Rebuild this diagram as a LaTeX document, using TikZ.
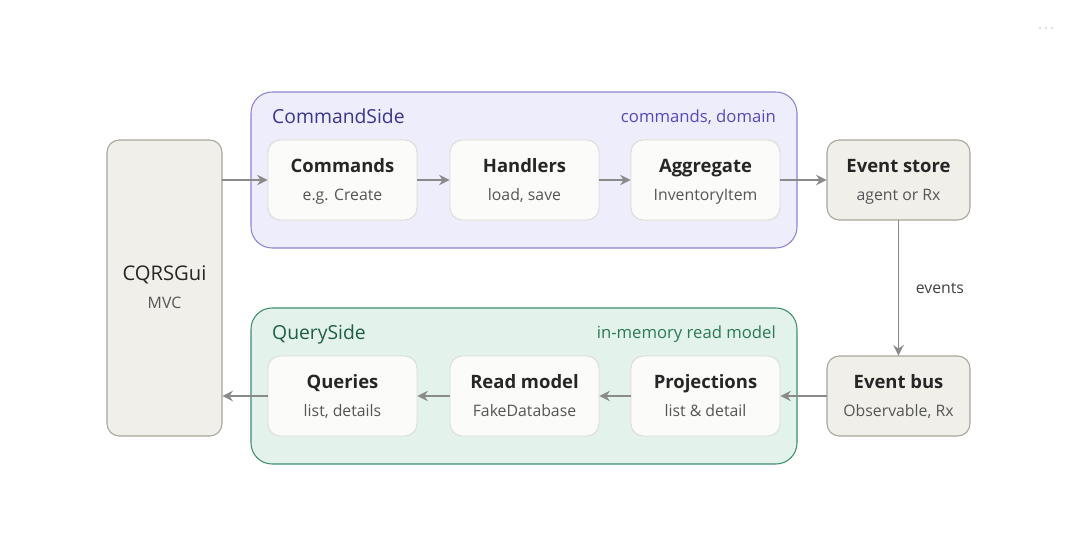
\documentclass[tikz,border=0pt]{standalone}
\usepackage{fontspec}
\setmainfont{Open Sans}
\usetikzlibrary{arrows.meta}
\definecolor{beige}{HTML}{F1EFE9}
\definecolor{beigeb}{HTML}{A8A49C}
\definecolor{lav}{HTML}{EEEDFB}
\definecolor{lavb}{HTML}{8A84D4}
\definecolor{lavt}{HTML}{3B3490}
\definecolor{lavt2}{HTML}{5549C0}
\definecolor{mint}{HTML}{E3F3EC}
\definecolor{mintb}{HTML}{3E8E6B}
\definecolor{mintt}{HTML}{1F5E43}
\definecolor{mintt2}{HTML}{2A7A55}
\definecolor{card}{HTML}{FBFBF9}
\definecolor{cardb}{HTML}{DCDAD4}
\definecolor{arr}{HTML}{8A8A8A}
\definecolor{sub}{HTML}{555555}
\begin{document}
\begin{tikzpicture}[x=0.02cm,y=-0.02cm,
  cont/.style={draw,rounded corners=12pt,line width=0.6pt},
  card/.style={draw=cardb,fill=card,rounded corners=7pt,line width=0.5pt},
  ext/.style={draw=beigeb,fill=beige,rounded corners=7pt,line width=0.6pt},
  ttl/.style={anchor=base,font=\fontsize{10.5}{12}\selectfont\bfseries,text=black!85},
  sb/.style={anchor=base,font=\fontsize{9}{11}\selectfont,text=sub},
  ar/.style={draw=arr,line width=1pt,-{Stealth[length=6pt,width=6pt]}}]
\useasboundingbox (0,0) rectangle (1076,551);
\fill[black!12] (1040,28) circle (1.3) (1046,28) circle (1.3) (1052,28) circle (1.3);
% containers
\draw[cont,draw=lavb,fill=lav] (251,92) rectangle (797,248);
\node[anchor=base west,font=\fontsize{11}{13}\selectfont,text=lavt] at (266,123) {CommandSide};
\node[anchor=base east,font=\fontsize{9.5}{11}\selectfont,text=lavt2] at (782,122) {commands, domain};
\draw[cont,draw=mintb,fill=mint] (251,308) rectangle (797,464);
\node[anchor=base west,font=\fontsize{11}{13}\selectfont,text=mintt] at (266,339) {QuerySide};
\node[anchor=base east,font=\fontsize{9.5}{11}\selectfont,text=mintt2] at (782,338) {in-memory read model};
% gui
\draw[ext] (107,140) rectangle (222,436);
\node (gui) at (164.5,288) [minimum width=2.3cm,minimum height=5.92cm,inner sep=0] {};
\node[ttl,font=\fontsize{11.5}{13}\selectfont] at (164.5,280) {CQRSGui};
\node[sb] at (164.5,308) {MVC};
% boxes
\foreach \n/\x/\y/\w/\t/\s/\st in {
 cmd/268/140/149/Commands/e.g. Create/card,
 hdl/450/140/149/Handlers/{load, save}/card,
 agg/631/140/149/Aggregate/InventoryItem/card,
 es/827/140/143/Event store/agent or Rx/ext,
 qry/268/356/149/Queries/{list, details}/card,
 rm/450/356/149/Read model/FakeDatabase/card,
 prj/631/356/149/Projections/list \& detail/card,
 eb/827/356/143/Event bus/{Observable, Rx}/ext}{
 \draw[\st] (\x,\y) rectangle ++(\w,80);
 \node (\n) at (\x+\w/2,\y+40) [minimum width=\w*0.02cm,minimum height=1.6cm,inner sep=0] {};
 \node[ttl] at (\x+\w/2,\y+32) {\t};
 \node[sb] at (\x+\w/2,\y+60) {\s};
}
% arrows
\draw[ar] (gui.east|-cmd) -- (cmd.west);
\draw[ar] (cmd) -- (hdl);
\draw[ar] (hdl) -- (agg);
\draw[ar] (agg) -- (es);
\draw[ar] (es) -- node[right=6pt,font=\fontsize{9}{11}\selectfont,text=black!75]{events} (eb);
\draw[ar] (eb) -- (prj);
\draw[ar] (prj) -- (rm);
\draw[ar] (rm) -- (qry);
\draw[ar] (qry.west) -- (gui.east|-qry);
\end{tikzpicture}
\end{document}
